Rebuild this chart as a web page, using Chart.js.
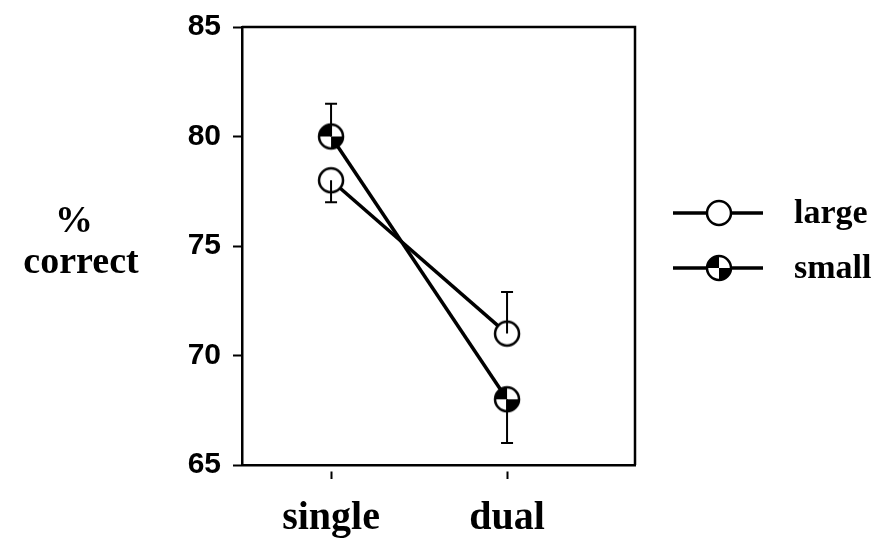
<!DOCTYPE html>
<html><head><meta charset="utf-8">
<script src="https://cdn.jsdelivr.net/npm/chart.js@4"></script>
<style>html,body{margin:0;padding:0;background:#fff}#wrap{width:873px;height:539px;position:relative}</style>
</head><body><div id="wrap"><canvas id="c" width="873" height="539"></canvas></div>
<script>
const categories = ['single', 'dual'];
const seriesLabels = ['large', 'small'];
const largeValues = [78, 71];
const smallValues = [80, 68];
const largeErrUp = [0, 1.9];
const largeErrDown = [1, 0];
const smallErrUp = [1.5, 0];
const smallErrDown = [0, 2];
const yTicks = [65, 70, 75, 80, 85];
const yTitleLines = ['%', 'correct'];

const R = 12;
function makeMarker(quarters) {
  const s = 2 * R + 6;
  const cv = document.createElement('canvas');
  cv.width = s; cv.height = s;
  const g = cv.getContext('2d');
  const c = s / 2;
  g.beginPath(); g.arc(c, c, R, 0, Math.PI * 2); g.fillStyle = '#fff'; g.fill();
  if (quarters) {
    g.fillStyle = '#000';
    g.beginPath(); g.moveTo(c, c); g.arc(c, c, R, Math.PI, Math.PI * 1.5); g.closePath(); g.fill();
    g.beginPath(); g.moveTo(c, c); g.arc(c, c, R, 0, Math.PI * 0.5); g.closePath(); g.fill();
  }
  g.beginPath(); g.arc(c, c, R, 0, Math.PI * 2); g.lineWidth = 2.5; g.strokeStyle = '#000'; g.stroke();
  return cv;
}
const markerLarge = makeMarker(false);
const markerSmall = makeMarker(true);

const toPts = arr => arr.map((v, i) => ({ x: i, y: v }));

const errorBars = {
  id: 'errorBars',
  afterDatasetsDraw(chart) {
    const ctx = chart.ctx, xs = chart.scales.x, ys = chart.scales.y;
    const sets = [[largeValues, largeErrUp, largeErrDown], [smallValues, smallErrUp, smallErrDown]];
    ctx.save();
    ctx.strokeStyle = '#000'; ctx.lineWidth = 2;
    sets.forEach(([vals, up, down]) => {
      vals.forEach((v, i) => {
        const px = xs.getPixelForValue(i), py = ys.getPixelForValue(v);
        [[up[i], 1], [down[i], -1]].forEach(([e, d]) => {
          if (!e) return;
          const ey = ys.getPixelForValue(v + d * e);
          ctx.beginPath(); ctx.moveTo(px, py); ctx.lineTo(px, ey);
          ctx.moveTo(px - 6, ey); ctx.lineTo(px + 6, ey); ctx.stroke();
        });
      });
    });
    ctx.restore();
  }
};

const frame = {
  id: 'frame',
  afterDraw(chart) {
    const { ctx, chartArea: a } = chart;
    ctx.save(); ctx.strokeStyle = '#000'; ctx.lineWidth = 2.5;
    ctx.beginPath(); ctx.moveTo(a.left, a.top); ctx.lineTo(a.right, a.top); ctx.lineTo(a.right, a.bottom); ctx.stroke();
    ctx.restore();
  }
};

const sideTexts = {
  id: 'sideTexts',
  afterDraw(chart) {
    const ctx = chart.ctx;
    ctx.save();
    ctx.fillStyle = '#000';
    ctx.textAlign = 'center'; ctx.textBaseline = 'alphabetic';
    ctx.font = 'bold 38px "Liberation Serif"';
    ctx.fillText(yTitleLines[0], 74, 232);
    ctx.fillText(yTitleLines[1], 81, 273);
    const markers = [markerLarge, markerSmall];
    const ly = [213, 268];
    chart.data.datasets.forEach((ds, i) => {
      const y = ly[i];
      ctx.strokeStyle = '#000'; ctx.lineWidth = 3.5;
      ctx.beginPath(); ctx.moveTo(673, y); ctx.lineTo(763, y); ctx.stroke();
      const m = markers[i];
      ctx.drawImage(m, 719 - m.width / 2, y - m.height / 2);
      ctx.textAlign = 'left'; ctx.textBaseline = 'alphabetic';
      ctx.font = 'bold 34px "Liberation Serif"';
      ctx.fillText(ds.label, 794, y + 10);
    });
    ctx.restore();
  }
};

new Chart(document.getElementById('c'), {
  type: 'line',
  data: {
    datasets: [
      { label: seriesLabels[0], data: toPts(largeValues), borderColor: '#000', borderWidth: 3.5,
        pointStyle: markerLarge, pointRadius: R, pointHoverRadius: R, fill: false, tension: 0 },
      { label: seriesLabels[1], data: toPts(smallValues), borderColor: '#000', borderWidth: 3.5,
        pointStyle: markerSmall, pointRadius: R, pointHoverRadius: R, fill: false, tension: 0 }
    ]
  },
  options: {
    responsive: false,
    animation: false,
    events: [],
    layout: { padding: { left: 0, right: 238, top: 26, bottom: 0 } },
    plugins: { legend: { display: false }, tooltip: { enabled: false } },
    scales: {
      x: {
        type: 'linear', min: -0.506, max: 1.727,
        afterBuildTicks: s => { s.ticks = categories.map((c, i) => ({ value: i })); },
        afterFit: s => { s.height = 74; },
        ticks: { callback: v => categories[v] ?? '', color: '#000', padding: 16, maxRotation: 0,
          font: { family: '"Liberation Serif"', size: 40, weight: 'bold' } },
        grid: { display: true, drawOnChartArea: false, drawTicks: true, tickLength: 14, tickWidth: 2,
          tickColor: '#000', tickBorderDash: [0, 5, 9, 100] },
        border: { display: true, color: '#000', width: 2.5 }
      },
      y: {
        min: 65, max: 85,
        afterBuildTicks: s => { s.ticks = yTicks.map(v => ({ value: v })); },
        afterFit: s => { s.width = 242; },
        ticks: { color: '#000', padding: 9,
          font: { family: '"Liberation Sans"', size: 30, weight: 'bold' } },
        grid: { display: true, drawOnChartArea: false, drawTicks: true, tickLength: 12, tickWidth: 2,
          tickColor: '#000', tickBorderDash: [0, 3, 9, 100] },
        border: { display: true, color: '#000', width: 2.5 }
      }
    }
  },
  plugins: [errorBars, frame, sideTexts]
});
</script></body></html>
